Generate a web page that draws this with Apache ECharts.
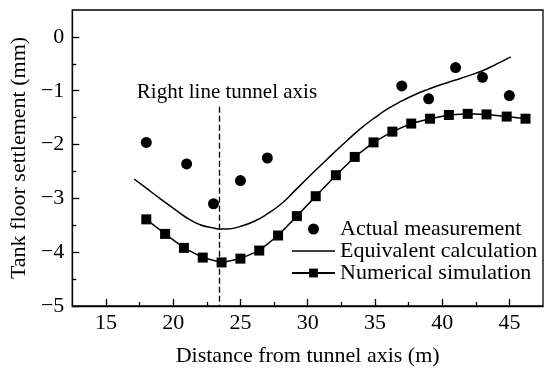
<!DOCTYPE html>
<html>
<head>
<meta charset="utf-8">
<script src="https://cdn.jsdelivr.net/npm/echarts@6/dist/echarts.min.js"></script>
<style>html,body{margin:0;padding:0;background:#fff}#c{width:550px;height:372px}</style>
</head>
<body>
<div id="c"></div>
<script>
// Actual measurement
var measX = [18, 21, 23, 25, 27, 37, 39, 41, 43, 45];
var measY = [-1.96, -2.36, -3.1, -2.67, -2.25, -0.91, -1.15, -0.57, -0.75, -1.09];
// Equivalent calculation
var eqX = [17.1, 18, 19, 20, 21, 22, 23, 23.5, 24, 25, 26, 27, 28, 29, 30, 31, 32, 33, 34, 35, 36, 37, 38, 39, 40, 41, 42, 43, 44, 45.1];
var eqY = [-2.64, -2.81, -3.0, -3.18, -3.36, -3.49, -3.55, -3.57, -3.57, -3.52, -3.43, -3.29, -3.11, -2.87, -2.62, -2.38, -2.14, -1.91, -1.69, -1.50, -1.33, -1.19, -1.07, -0.97, -0.88, -0.80, -0.72, -0.63, -0.51, -0.37];
// Numerical simulation
var simX = [18.0, 19.4, 20.8, 22.2, 23.6, 25.0, 26.4, 27.8, 29.2, 30.6, 32.1, 33.5, 34.9, 36.3, 37.7, 39.1, 40.5, 41.9, 43.3, 44.8, 46.2];
var simY = [-3.39, -3.66, -3.92, -4.10, -4.19, -4.12, -3.97, -3.69, -3.33, -2.96, -2.57, -2.23, -1.96, -1.76, -1.61, -1.52, -1.45, -1.43, -1.44, -1.48, -1.52];
// Tunnel axis
var tunnelAxisX = 23.4;
var tunnelAxisTop = -1.3;
var tunnelLabel = 'Right line tunnel axis';
var tunnelLabelPos = [24.0, -1.03];
// Ticks
var xTicks = [15, 20, 25, 30, 35, 40, 45];
var xMinorTicks = [17.5, 22.5, 27.5, 32.5, 37.5, 42.5];
var yTicks = [-5, -4, -3, -2, -1, 0];
var yMinorTicks = [-4.5, -3.5, -2.5, -1.5, -0.5];
var names = ['Actual measurement', 'Equivalent calculation', 'Numerical simulation'];

function zip(a, b) { return a.map(function (v, i) { return [v, b[i]]; }); }

var FONT = 'Liberation Serif';
var chart = echarts.init(document.getElementById('c'), null, { renderer: 'canvas' });
var txt = { fontFamily: FONT, fontSize: 22, color: '#000' };

chart.setOption({
  animation: false,
  backgroundColor: '#fff',
  grid: { left: 66, right: 7, top: 10, bottom: 64, show: true, borderColor: '#000', borderWidth: 1.3, backgroundColor: 'transparent' },
  legend: {
    orient: 'vertical', left: 291, top: 218, padding: 0, itemWidth: 43, itemHeight: 11, itemGap: 0, itemTextGap: 0,
    symbolKeepAspect: true,
    textStyle: { fontFamily: FONT, fontSize: 22, color: '#000', lineHeight: 22 },
    data: [{ name: names[0] }, { name: names[1], icon: 'path://M0,0h43v1.5h-43z' }, { name: names[2] }]
  },
  xAxis: [{
    type: 'value', min: 12.5, max: 47.5,
    name: 'Distance from tunnel axis (m)', nameLocation: 'middle', nameGap: 39,
    nameTextStyle: txt,
    axisLine: { onZero: false, lineStyle: { color: '#000', width: 1.3 } },
    axisTick: { inside: true, length: 7, lineStyle: { color: '#000', width: 1.3 }, customValues: xTicks },
    axisLabel: Object.assign({ margin: 6, customValues: xTicks }, txt),
    splitLine: { show: false }
  }, {
    type: 'value', min: 12.5, max: 47.5, position: 'bottom',
    axisLine: { show: false, onZero: false },
    axisTick: { inside: true, length: 4, lineStyle: { color: '#000', width: 1.3 }, customValues: xMinorTicks },
    axisLabel: { show: false },
    splitLine: { show: false }
  }],
  yAxis: [{
    type: 'value', min: -5, max: 0.5,
    name: 'Tank floor settlement (mm)', nameLocation: 'middle', nameGap: 42,
    nameTextStyle: txt,
    axisLine: { onZero: false, lineStyle: { color: '#000', width: 1.3 } },
    axisTick: { inside: true, length: 7, lineStyle: { color: '#000', width: 1.3 }, customValues: yTicks },
    axisLabel: Object.assign({ margin: 8, customValues: yTicks, formatter: function (v) { return String(v).replace('-', '\u2212'); } }, txt),
    splitLine: { show: false }
  }, {
    type: 'value', min: -5, max: 0.5, position: 'left',
    axisLine: { show: false, onZero: false },
    axisTick: { inside: true, length: 4, lineStyle: { color: '#000', width: 1.3 }, customValues: yMinorTicks },
    axisLabel: { show: false },
    splitLine: { show: false }
  }],
  series: [{
    name: names[0], type: 'scatter', symbol: 'circle', symbolSize: 11,
    itemStyle: { color: '#000', opacity: 1 },
    data: zip(measX, measY),
    markLine: {
      silent: true, symbol: 'none', label: { show: false },
      lineStyle: { color: '#000', width: 1.3, type: [6, 3] },
      data: [[{ coord: [tunnelAxisX, tunnelAxisTop] }, { coord: [tunnelAxisX, -5] }]]
    },
    markPoint: {
      silent: true, symbol: 'circle', symbolSize: 0,
      label: { show: true, formatter: tunnelLabel, fontFamily: FONT, fontSize: 21, color: '#000', position: 'inside' },
      data: [{ coord: tunnelLabelPos }]
    }
  }, {
    name: names[1], type: 'line', symbol: 'none', smooth: 0.5,
    lineStyle: { color: '#000', width: 1.5 }, itemStyle: { color: '#000' },
    data: zip(eqX, eqY)
  }, {
    name: names[2], type: 'line', symbol: 'rect', symbolSize: 10,
    lineStyle: { color: '#000', width: 1.5 }, itemStyle: { color: '#000' },
    data: zip(simX, simY)
  }]
});
</script>
</body>
</html>
